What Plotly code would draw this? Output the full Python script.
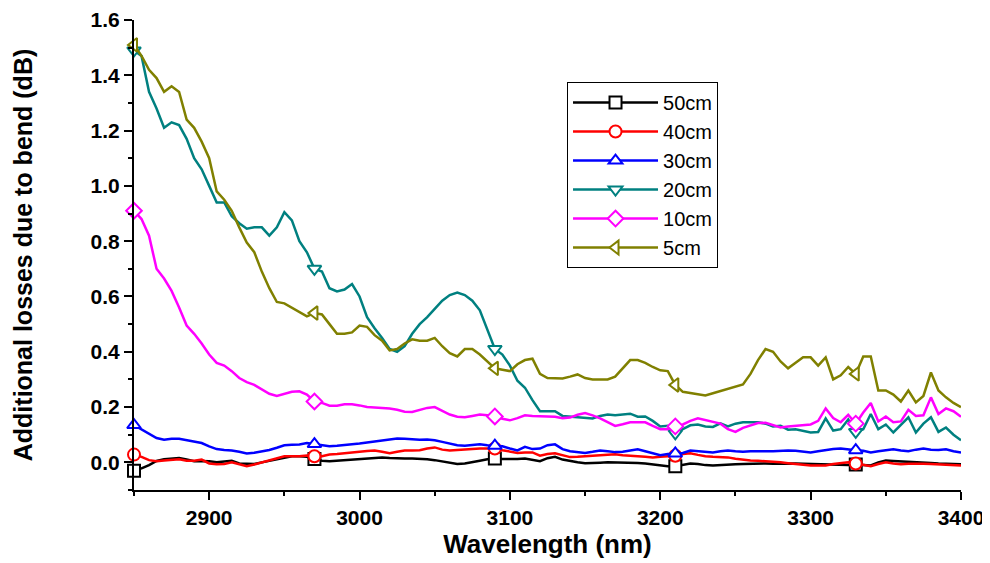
import plotly.graph_objects as go

wavelength = list(range(2850, 3401, 5))

loss_50cm = [-0.03, -0.022, -0.01, 0.005, 0.011, 0.014, 0.016, 0.01, 0.004, 0.005,
             0.004, 0.0, 0.003, 0.006, -0.004, -0.006, -0.006, 0.0, 0.006, 0.012,
             0.018, 0.022, 0.022, 0.02, 0.012, 0.006, 0.004, 0.006, 0.01, 0.011,
             0.013, 0.014, 0.016, 0.018, 0.016, 0.014, 0.014, 0.014, 0.013, 0.011,
             0.008, 0.004, 0.0, -0.006, -0.004, 0.002, 0.006, 0.011, 0.014, 0.012,
             0.011, 0.012, 0.014, 0.01, 0.004, 0.015, 0.02, 0.01, 0.004, 0.0,
             -0.003, -0.003, -0.001, 0.0, 0.0, -0.001, 0.0, -0.002, -0.004, -0.008,
             -0.012, -0.014, -0.014, -0.008, -0.004, -0.006, -0.01, -0.011, -0.009, -0.008,
             -0.007, -0.006, -0.005, -0.004, -0.004, -0.005, -0.004, -0.004, -0.004, -0.005,
             -0.006, -0.007, -0.008, -0.009, -0.011, -0.01, -0.008, -0.009, -0.011, 0.0,
             0.007, 0.005, 0.004, 0.002, 0.0, -0.001, -0.002, -0.004, -0.005, -0.006,
             -0.007]

loss_40cm = [0.028, 0.02, 0.008, 0.004, 0.007, 0.008, 0.011, 0.006, 0.006, 0.01,
             -0.004, -0.007, -0.006, 0.0, -0.008, -0.014, -0.008, 0.0, 0.006, 0.015,
             0.022, 0.022, 0.022, 0.025, 0.022, 0.022, 0.028, 0.03, 0.032, 0.036,
             0.038, 0.041, 0.043, 0.038, 0.033, 0.038, 0.043, 0.043, 0.044, 0.05,
             0.054, 0.046, 0.043, 0.045, 0.047, 0.048, 0.05, 0.05, 0.05, 0.044,
             0.038, 0.034, 0.036, 0.036, 0.024, 0.03, 0.033, 0.026, 0.019, 0.02,
             0.022, 0.022, 0.025, 0.027, 0.029, 0.026, 0.023, 0.022, 0.02, 0.018,
             0.02, 0.022, 0.024, 0.03, 0.033, 0.027, 0.022, 0.02, 0.018, 0.018,
             0.013, 0.009, 0.007, 0.006, 0.004, 0.004, 0.0, -0.003, -0.006, -0.01,
             -0.011, -0.011, -0.011, -0.006, -0.002, 0.0, -0.004, -0.01, -0.014, -0.006,
             0.0, -0.004, -0.007, -0.005, -0.004, -0.005, -0.006, -0.007, -0.008, -0.01,
             -0.011]

loss_30cm = [0.135, 0.12, 0.105, 0.088, 0.082, 0.085, 0.085, 0.08, 0.074, 0.07,
             0.058, 0.048, 0.045, 0.043, 0.038, 0.032, 0.035, 0.04, 0.045, 0.053,
             0.062, 0.064, 0.065, 0.07, 0.066, 0.06, 0.058, 0.06, 0.062, 0.065,
             0.068, 0.072, 0.076, 0.08, 0.082, 0.086, 0.085, 0.083, 0.082, 0.083,
             0.08, 0.074, 0.068, 0.062, 0.06, 0.063, 0.065, 0.062, 0.06, 0.058,
             0.05, 0.043, 0.056, 0.048, 0.05, 0.062, 0.065, 0.048, 0.04, 0.036,
             0.034, 0.038, 0.043, 0.04, 0.037, 0.038, 0.042, 0.047, 0.04, 0.032,
             0.026, 0.03, 0.032, 0.034, 0.043, 0.041, 0.037, 0.036, 0.04, 0.043,
             0.04, 0.038, 0.04, 0.041, 0.04, 0.04, 0.042, 0.043, 0.042, 0.04,
             0.036, 0.04, 0.045, 0.048, 0.05, 0.046, 0.044, 0.042, 0.036, 0.04,
             0.044, 0.047, 0.043, 0.04, 0.046, 0.05, 0.046, 0.045, 0.047, 0.04,
             0.036]

loss_20cm = [1.49, 1.47, 1.34, 1.28, 1.21, 1.23, 1.22, 1.17, 1.10, 1.06,
             1.00, 0.94, 0.94, 0.89, 0.865, 0.845, 0.85, 0.85, 0.82, 0.85,
             0.905, 0.875, 0.80, 0.76, 0.70, 0.69, 0.63, 0.618, 0.625, 0.645,
             0.60, 0.525, 0.485, 0.45, 0.41, 0.40, 0.42, 0.465, 0.50, 0.525,
             0.555, 0.585, 0.605, 0.614, 0.605, 0.585, 0.55, 0.48, 0.41, 0.39,
             0.35, 0.295, 0.27, 0.225, 0.185, 0.185, 0.185, 0.168, 0.166, 0.165,
             0.163, 0.159, 0.168, 0.173, 0.17, 0.174, 0.176, 0.165, 0.166, 0.15,
             0.13, 0.132, 0.105, 0.12, 0.134, 0.137, 0.13, 0.128, 0.141, 0.13,
             0.14, 0.145, 0.145, 0.145, 0.14, 0.13, 0.132, 0.118, 0.12, 0.115,
             0.108, 0.11, 0.159, 0.115, 0.12, 0.155, 0.11, 0.12, 0.175, 0.12,
             0.137, 0.108, 0.135, 0.163, 0.108, 0.14, 0.163, 0.11, 0.126, 0.10,
             0.08]

loss_10cm = [0.91, 0.88, 0.82, 0.70, 0.665, 0.62, 0.56, 0.495, 0.465, 0.43,
             0.39, 0.36, 0.35, 0.33, 0.305, 0.29, 0.28, 0.265, 0.248, 0.24,
             0.248, 0.255, 0.257, 0.245, 0.22, 0.215, 0.205, 0.205, 0.21, 0.21,
             0.206, 0.20, 0.198, 0.197, 0.195, 0.19, 0.183, 0.182, 0.19, 0.197,
             0.20, 0.185, 0.173, 0.165, 0.163, 0.168, 0.173, 0.17, 0.166, 0.158,
             0.152, 0.16, 0.17, 0.168, 0.166, 0.166, 0.165, 0.16, 0.162, 0.172,
             0.178, 0.17, 0.159, 0.145, 0.132, 0.138, 0.145, 0.145, 0.145, 0.132,
             0.12, 0.12, 0.13, 0.137, 0.15, 0.159, 0.152, 0.147, 0.14, 0.12,
             0.11, 0.125, 0.133, 0.142, 0.143, 0.135, 0.126, 0.13, 0.133, 0.135,
             0.137, 0.15, 0.195, 0.16, 0.145, 0.172, 0.14, 0.18, 0.215, 0.148,
             0.166, 0.145, 0.148, 0.19, 0.168, 0.17, 0.235, 0.175, 0.195, 0.185,
             0.165]

loss_5cm = [1.51, 1.47, 1.42, 1.39, 1.34, 1.36, 1.34, 1.24, 1.21, 1.16,
            1.10, 0.98, 0.95, 0.91, 0.85, 0.795, 0.76, 0.69, 0.63, 0.58,
            0.575, 0.56, 0.545, 0.528, 0.54, 0.535, 0.50, 0.465, 0.465, 0.47,
            0.495, 0.49, 0.46, 0.44, 0.405, 0.41, 0.43, 0.445, 0.44, 0.44,
            0.45, 0.42, 0.395, 0.383, 0.41, 0.41, 0.39, 0.365, 0.34, 0.335,
            0.33, 0.355, 0.37, 0.375, 0.32, 0.305, 0.303, 0.303, 0.31, 0.318,
            0.305, 0.30, 0.30, 0.30, 0.31, 0.34, 0.37, 0.37, 0.36, 0.345,
            0.333, 0.33, 0.28, 0.255, 0.25, 0.245, 0.242, 0.25, 0.258, 0.265,
            0.272, 0.282, 0.32, 0.37, 0.41, 0.40, 0.365, 0.34, 0.36, 0.38,
            0.38, 0.35, 0.38, 0.30, 0.315, 0.345, 0.32, 0.383, 0.383, 0.26,
            0.26, 0.245, 0.22, 0.26, 0.217, 0.24, 0.325, 0.26, 0.235, 0.215,
            0.20]

series_names = ["50cm", "40cm", "30cm", "20cm", "10cm", "5cm"]
series_values = [loss_50cm, loss_40cm, loss_30cm, loss_20cm, loss_10cm, loss_5cm]
series_colors = ["#000000", "#FF0000", "#0000FF", "#008080", "#FF00FF", "#808000"]
series_symbols = ["square", "circle", "triangle-up", "triangle-down", "diamond", "triangle-left"]
marker_indices = [0, 24, 48, 72, 96]

x_ticks = [2900, 3000, 3100, 3200, 3300, 3400]

FONT = "Liberation Sans, Arial, sans-serif"

fig = go.Figure()
for name, vals, col, sym in zip(series_names, series_values, series_colors, series_symbols):
    fig.add_trace(go.Scatter(
        x=wavelength, y=vals, name=name, mode="lines+markers",
        line=dict(color=col, width=2.5),
        marker=dict(symbol=sym, size=12, color="white", line=dict(color=col, width=2)),
        selectedpoints=marker_indices,
        selected=dict(marker=dict(opacity=1)),
        unselected=dict(marker=dict(opacity=0)),
        cliponaxis=False,
    ))

# page body has an 8px default margin, so the figure is 8px smaller
fig.update_layout(
    width=982, height=555,
    margin=dict(l=126, r=29, t=12, b=73),
    paper_bgcolor="white", plot_bgcolor="white",
    font=dict(family=FONT, color="black"),
    showlegend=True,
    legend=dict(
        x=0.5236, y=0.868, xanchor="left", yanchor="top",
        bordercolor="black", borderwidth=1, bgcolor="white",
        font=dict(family=FONT, size=20, color="black"),
        tracegroupgap=0, itemwidth=85,
    ),
    xaxis=dict(
        range=[2850, 3400], tickvals=x_ticks, ticktext=[str(v) for v in x_ticks],
        showline=True, linecolor="black", linewidth=2, mirror=False,
        ticks="outside", ticklen=8, tickwidth=2, tickcolor="black",
        minor=dict(dtick=50, tick0=2850, ticks="outside", ticklen=4, tickwidth=2, tickcolor="black"),
        showgrid=False, zeroline=False, automargin=False,
        tickfont=dict(family=FONT, size=21, weight="bold", color="black"),
        title=dict(text="Wavelength (nm)", standoff=6,
                   font=dict(family=FONT, size=26, weight="bold", color="black")),
    ),
    yaxis=dict(
        range=[-0.1, 1.6], dtick=0.2, tick0=0, tickformat=".1f",
        showline=True, linecolor="black", linewidth=2, mirror=False,
        ticks="outside", ticklen=8, tickwidth=2, tickcolor="black",
        minor=dict(dtick=0.1, tick0=0, ticks="outside", ticklen=4, tickwidth=2, tickcolor="black"),
        showgrid=False, zeroline=False, automargin=False,
        tickfont=dict(family=FONT, size=21, weight="bold", color="black"),
        title=dict(text="Additional losses due to bend (dB)", standoff=51,
                   font=dict(family=FONT, size=25, weight="bold", color="black")),
    ),
)

fig.write_html("out.html")
